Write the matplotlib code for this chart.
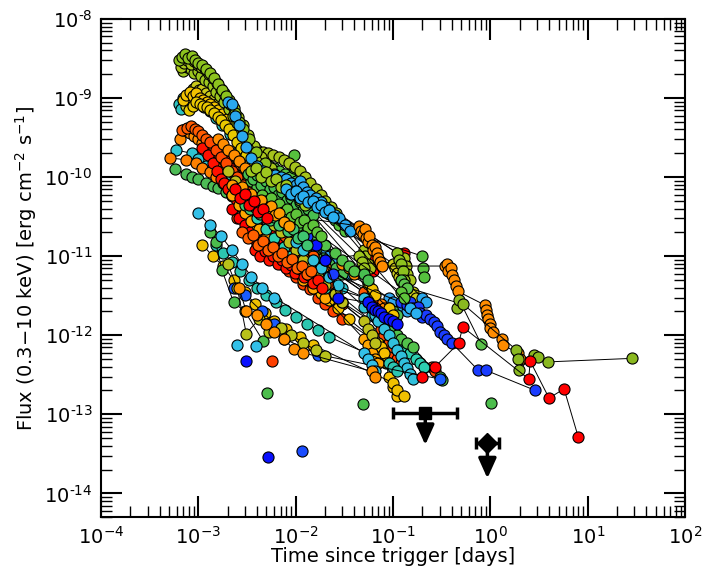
import matplotlib.pyplot as plt
import numpy as np

# Swift XRT light curves. time since trigger in days,
# flux (0.3-10 keV) in units of 1e-12 erg cm^-2 s^-1
FLUX_UNIT = 1e-12

curve_colors = [
    '#ff4400', '#ff3300', '#33a8f0', '#2ec8b4', '#4dbb55', '#30c4d0',
    '#ff8000', '#ff8a00', '#ff5a00', '#ff1000', '#ff0000', '#ff0800',
    '#ff4a00', '#56c13e', '#a6c31c', '#2ec2c0', '#c9c81a', '#f2c200',
    '#e8c800', '#9cc51e', '#a8c61c', '#8cc21e', '#2aa8ee',
    '#f5c000', '#ffa500', '#2ccfb0', '#52c24a', '#bdbf1a', '#31c0dc',
    '#f0c000', '#2cc6b0', '#4cbd4c', '#1a5cff', '#33c0e8', '#b8c21a',
    '#ff9000', '#5ac24a', '#1a3cff', '#0a14ff', '#ff8c00', '#8ab820',
    '#ff0000',
    '#48be50', '#5ec43a', '#3fc470', '#9ec81e', '#ff1400', '#ff6000',
    '#ff9a00', '#ff0000', '#2ab0f0',
]

curve_t = [
    [2.5e-3, 3.0e-3, 3.5e-3, 4.0e-3, 5.0e-3, 6.0e-3, 7.0e-3, 8.5e-3, 0.01, 0.012,
     0.014, 0.017, 0.02, 0.024, 0.03, 0.1, 0.11, 0.12, 0.25, 0.27],
    [4.0e-3, 4.8e-3, 5.5e-3, 6.3e-3, 7.2e-3, 8.2e-3, 9.3e-3, 0.0105, 0.012, 0.0135,
     0.015, 0.017, 0.019, 0.021, 0.023, 0.026, 0.03, 0.08, 0.09, 0.1],
    [2.5e-3, 3.0e-3, 3.5e-3, 4.0e-3, 4.5e-3, 5.0e-3, 6.0e-3, 7.0e-3, 8.0e-3, 9.0e-3,
     0.01, 0.012, 0.014, 0.016, 0.019, 0.022, 0.026, 0.03, 0.035, 0.09, 0.1, 0.12, 0.14],
    [1.5e-3, 1.8e-3, 2.1e-3, 2.5e-3, 3.0e-3, 3.6e-3, 4.3e-3, 5.0e-3, 6.0e-3, 7.0e-3,
     8.5e-3, 0.01, 0.012, 0.014, 0.017, 0.02],
    [5.8e-4, 7.5e-4, 8.5e-4, 1.0e-3, 1.2e-3, 1.4e-3, 1.6e-3, 1.9e-3, 2.2e-3, 2.6e-3,
     3.0e-3, 3.5e-3, 4.0e-3, 4.6e-3, 5.3e-3, 6.0e-3, 7.0e-3, 8.0e-3, 9.2e-3, 0.0105,
     0.012, 0.014, 0.016, 0.019, 0.022, 0.026, 0.03, 0.09, 0.1, 0.11],
    [5.9e-4, 8.5e-4, 1.0e-3, 1.2e-3, 1.4e-3, 1.7e-3, 2.0e-3, 2.5e-3, 3.0e-3, 4.0e-3,
     5.5e-3, 7.5e-3, 0.02, 0.03, 0.05, 0.06],
    [5.1e-4, 7.5e-4, 9.5e-4, 1.1e-3, 1.3e-3, 1.5e-3, 1.8e-3, 2.1e-3, 2.5e-3, 3.0e-3,
     3.6e-3, 4.5e-3, 6.0e-3, 8.0e-3, 0.011, 0.015, 0.02, 0.075, 0.08, 0.085, 0.09],
    [6.5e-4, 7.0e-4, 7.5e-4, 8.2e-4, 9.0e-4, 1.0e-3, 1.1e-3, 1.2e-3, 1.35e-3, 1.5e-3,
     1.7e-3, 1.9e-3, 2.1e-3, 2.4e-3, 2.7e-3, 3.1e-3, 3.6e-3, 4.2e-3, 5.0e-3, 6.0e-3,
     7.0e-3, 8.5e-3, 0.01, 0.012, 0.014, 0.03, 0.035, 0.04],
    [6.8e-4, 7.6e-4, 8.4e-4, 9.2e-4, 1.0e-3, 1.1e-3, 1.2e-3, 1.3e-3, 1.45e-3, 1.6e-3,
     1.8e-3, 2.0e-3, 2.25e-3, 2.5e-3, 2.8e-3, 3.2e-3, 3.6e-3, 4.1e-3, 4.7e-3, 5.4e-3,
     6.2e-3, 7.1e-3, 8.2e-3, 9.5e-3, 0.011, 0.013, 0.015, 0.05, 0.055, 0.06],
    [1.1e-3, 1.25e-3, 1.4e-3, 1.55e-3, 1.7e-3, 1.85e-3, 2.0e-3, 2.2e-3, 2.5e-3, 2.8e-3,
     3.2e-3, 3.7e-3, 4.3e-3, 5.0e-3, 5.8e-3, 6.8e-3, 8.0e-3, 9.5e-3, 0.011, 0.013,
     0.06, 0.065, 0.07],
    [2.2e-3, 2.6e-3, 3.0e-3, 3.4e-3, 3.9e-3, 4.5e-3, 5.2e-3, 6.0e-3, 7.0e-3, 8.0e-3,
     9.0e-3, 0.01, 0.011, 0.0125, 0.014, 0.016, 0.018, 0.02],
    [1.9e-3, 2.1e-3, 2.3e-3, 2.5e-3, 2.8e-3, 3.1e-3, 3.5e-3, 4.0e-3, 4.6e-3, 5.3e-3,
     6.1e-3, 7.0e-3, 8.2e-3, 9.5e-3, 0.011, 0.06, 0.061, 0.062, 0.13, 0.132, 0.134],
    [1.3e-3, 1.5e-3, 1.7e-3, 1.9e-3, 2.2e-3, 2.5e-3, 2.9e-3, 3.3e-3, 3.8e-3, 4.4e-3,
     5.0e-3, 5.8e-3, 6.7e-3, 7.8e-3, 9.0e-3, 0.0105, 0.012, 0.014, 0.016, 0.019,
     0.022, 0.026, 0.075, 0.08, 0.09, 0.1],
    [2.8e-3, 3.2e-3, 3.6e-3, 4.1e-3, 4.7e-3, 5.3e-3, 6.0e-3, 6.8e-3, 7.7e-3, 8.7e-3,
     9.5e-3, 9.7e-3, 0.01, 0.011, 0.012, 0.0135, 0.015, 0.017, 0.019, 0.022,
     0.025, 0.028, 0.032, 0.2, 0.205, 0.21],
    [2.5e-3, 3.0e-3, 3.5e-3, 4.0e-3, 4.6e-3, 5.2e-3, 5.9e-3, 6.7e-3, 7.6e-3, 8.6e-3,
     9.8e-3, 0.011, 0.0125, 0.014, 0.016, 0.018, 0.02, 0.023, 0.026, 0.05,
     0.052, 0.055, 0.058],
    [6.3e-4, 6.6e-4, 7.0e-4, 7.6e-4, 8.4e-4, 9.3e-4, 1.03e-3, 1.15e-3, 1.3e-3, 1.5e-3,
     1.75e-3, 2.1e-3, 2.6e-3, 3.3e-3],
    [7.4e-4, 8.0e-4, 8.7e-4, 9.4e-4, 1.02e-3, 1.1e-3, 1.2e-3, 1.3e-3, 1.42e-3, 1.56e-3,
     1.72e-3, 1.9e-3, 2.1e-3, 2.35e-3, 2.6e-3, 2.9e-3, 3.25e-3, 3.7e-3, 4.3e-3, 0.1,
     0.105, 0.11, 0.115, 0.12, 0.16, 0.17],
    [6.9e-4, 7.5e-4, 8.1e-4, 8.8e-4, 9.5e-4, 1.03e-3, 1.12e-3, 1.22e-3, 1.33e-3, 1.46e-3,
     1.6e-3, 1.76e-3, 1.95e-3, 2.15e-3, 2.4e-3, 2.7e-3, 3.0e-3, 3.4e-3, 3.9e-3, 4.6e-3,
     5.6e-3, 7.0e-3, 0.055, 0.06, 0.065, 0.09, 0.1],
    [8.0e-4, 8.7e-4, 9.5e-4, 1.03e-3, 1.12e-3, 1.22e-3, 1.33e-3, 1.45e-3, 1.58e-3, 1.72e-3,
     1.88e-3, 2.05e-3, 2.25e-3, 2.5e-3, 2.75e-3, 3.05e-3, 3.4e-3, 3.8e-3, 4.3e-3, 5.0e-3],
    [7.0e-4, 7.6e-4, 8.3e-4, 9.0e-4, 9.8e-4, 1.07e-3, 1.17e-3, 1.28e-3, 1.4e-3, 1.53e-3,
     1.68e-3, 1.85e-3, 2.05e-3, 2.25e-3, 2.5e-3, 2.8e-3, 3.1e-3, 3.5e-3, 4.0e-3, 0.045,
     0.048, 0.05],
    [6.6e-4, 7.1e-4, 7.7e-4, 8.3e-4, 9.0e-4, 9.8e-4, 1.07e-3, 1.17e-3, 1.28e-3, 1.4e-3,
     1.55e-3, 1.7e-3, 1.85e-3, 2.05e-3, 2.3e-3, 2.55e-3, 2.85e-3, 3.2e-3, 3.7e-3, 4.4e-3,
     5.5e-3, 0.13, 0.135, 0.14, 0.15],
    [6.3e-4, 6.8e-4, 7.3e-4, 7.9e-4, 8.6e-4, 9.3e-4, 1.0e-3, 1.1e-3, 1.2e-3, 1.32e-3,
     1.45e-3, 1.6e-3, 1.75e-3, 1.9e-3, 2.1e-3, 2.35e-3, 2.6e-3, 2.9e-3, 3.3e-3, 3.9e-3,
     4.8e-3, 6.0e-3, 0.11, 0.115, 0.12, 0.125, 0.13, 0.14],
    [2.0e-3, 2.2e-3, 2.4e-3, 2.6e-3, 2.8e-3, 3.1e-3, 3.5e-3, 4.0e-3, 4.6e-3, 5.3e-3,
     6.1e-3, 7.0e-3, 8.0e-3, 9.0e-3, 0.01, 0.011, 0.012, 0.013, 0.014, 0.016,
     0.018, 0.02, 0.022, 0.025, 0.028, 0.032, 0.036, 0.2, 0.22],
    [3.0e-3, 4.0e-3, 5.0e-3, 6.5e-3, 8.0e-3, 0.01, 0.012, 0.015, 0.018, 0.022,
     0.027, 0.035, 0.07, 0.075, 0.08, 0.085, 0.09, 0.1, 0.11],
    [2.2e-3, 2.6e-3, 3.0e-3, 3.5e-3, 4.2e-3, 5.0e-3, 6.0e-3, 7.0e-3, 8.5e-3, 0.01,
     0.012, 0.015, 0.02, 0.05, 0.055, 0.06, 0.065, 0.07],
    [4.0e-3, 5.0e-3, 6.0e-3, 7.5e-3, 9.0e-3, 0.011, 0.013, 0.016, 0.02, 0.025,
     0.03, 0.1, 0.11, 0.12, 0.13, 0.15, 0.17, 0.19, 0.21],
    [3.5e-3, 4.0e-3, 4.8e-3, 5.5e-3, 6.5e-3, 7.5e-3, 9.0e-3, 0.011, 0.013, 0.016,
     0.02, 0.025, 0.03, 0.035, 0.04, 0.09, 0.1, 0.11, 0.12, 0.14, 0.16, 0.3, 0.32],
    [2.0e-3, 2.4e-3, 2.8e-3, 3.3e-3, 4.0e-3, 5.0e-3, 6.0e-3, 7.0e-3, 8.5e-3, 0.01,
     0.012, 0.014, 0.017, 0.02, 0.025, 0.03, 0.05, 0.055, 0.06, 0.065],
    [0.01, 0.012, 0.015, 0.018, 0.022, 0.027, 0.05, 0.055, 0.06, 0.065,
     0.07, 0.08, 0.09, 0.1, 0.11, 0.12, 0.13, 0.14, 0.15, 0.16],
    [1.1e-3, 1.4e-3, 1.8e-3, 2.3e-3, 3.0e-3, 3.8e-3, 4.8e-3, 6.0e-3, 8.0e-3, 0.011,
     0.015, 0.1, 0.11, 0.13],
    [1.5e-3, 1.8e-3, 2.2e-3, 2.7e-3, 3.3e-3, 4.0e-3, 5.0e-3, 6.2e-3, 7.8e-3, 0.01,
     0.013, 0.017, 0.022, 0.09, 0.1, 0.11],
    [1.3e-3, 1.5e-3, 1.75e-3, 2.3e-3, 3.0e-3, 4.6e-3],
    [2.3e-3, 3.0e-3, 4.5e-3, 6.0e-3, 7.6e-3, 0.017, 0.3],
    [1.0e-3, 1.3e-3, 1.7e-3, 2.2e-3, 2.8e-3, 3.5e-3, 4.5e-3, 6.0e-3, 0.05, 0.055,
     0.06, 0.065],
    [2.0e-3, 2.5e-3, 3.1e-3, 4.2e-3, 5.3e-3, 7.0e-3, 9.0e-3, 0.012, 0.016, 0.02],
    [2.6e-3, 3.1e-3, 4.0e-3, 5.0e-3, 6.0e-3, 7.5e-3, 9.6e-3, 0.012, 0.06, 0.065],
    [0.12, 0.13, 0.14, 0.5, 0.8],
    [0.013, 0.015, 0.02, 0.024, 0.12, 0.14, 0.15, 0.16, 0.17, 0.18,
     0.19, 0.2, 0.22, 0.24, 0.26, 0.28, 0.3, 0.33, 0.36, 0.4, 0.75, 0.9, 2.9],
    [0.016, 0.02, 0.027, 0.055, 0.06, 0.065, 0.07, 0.075, 0.08, 0.09, 0.1, 0.11],
    [1.6e-3, 1.8e-3, 2.0e-3, 2.3e-3, 2.6e-3, 3.0e-3, 3.5e-3, 4.0e-3, 4.7e-3, 5.5e-3,
     6.5e-3, 7.5e-3, 9.0e-3, 0.011, 0.013, 0.045, 0.047, 0.049, 0.051, 0.053,
     0.055, 0.057, 0.06, 0.062, 0.065, 0.068, 0.07, 0.073, 0.076, 0.34,
     0.36, 0.37, 0.39, 0.4, 0.42, 0.44, 0.46, 0.88, 0.9, 0.93,
     0.95, 0.98, 1.0, 1.05, 1.3, 1.35, 1.9, 2.0],
    [0.45, 0.48, 0.52, 1.85, 1.9, 1.95, 2.8, 3.1, 3.9, 28.7],
    [0.2, 0.27, 0.47, 0.52, 2.47, 2.56, 4.0, 5.7, 8.0],
    [3.2e-3, 3.6e-3, 4.0e-3, 4.4e-3, 4.9e-3, 5.4e-3, 6.0e-3, 6.6e-3, 7.3e-3, 8.1e-3,
     9.0e-3, 0.01, 0.011, 0.012, 0.0135, 0.015, 0.05, 0.055],
    [4.5e-3, 5.0e-3, 5.5e-3, 6.1e-3, 6.7e-3, 7.4e-3, 8.2e-3, 9.0e-3, 0.01, 0.011,
     0.0122, 0.0135, 0.015, 0.0165, 0.018, 0.12, 0.13],
    [3.0e-3, 3.4e-3, 3.8e-3, 4.3e-3, 4.8e-3, 5.4e-3, 6.0e-3, 6.7e-3, 7.5e-3, 8.4e-3,
     9.4e-3, 0.0105, 0.0118, 0.013],
    [3.5e-3, 3.9e-3, 4.4e-3, 5.0e-3, 5.6e-3, 6.3e-3, 7.0e-3, 7.9e-3, 8.8e-3, 9.9e-3,
     0.011, 0.0125],
    [3.8e-3, 4.3e-3, 4.8e-3, 5.3e-3, 5.9e-3, 6.5e-3, 7.2e-3, 8.0e-3, 8.9e-3, 9.9e-3,
     0.011, 0.0122, 0.0136, 0.015, 0.0168, 0.0185],
    [2.8e-3, 3.2e-3, 3.6e-3, 4.1e-3, 4.6e-3, 5.2e-3, 5.8e-3, 6.5e-3, 7.3e-3, 8.2e-3,
     9.2e-3, 0.0103, 0.0115, 0.013, 0.0145],
    [2.2e-3, 2.5e-3, 2.8e-3, 3.1e-3, 3.5e-3, 3.9e-3, 4.4e-3, 4.9e-3, 5.5e-3, 6.1e-3,
     6.8e-3, 7.6e-3, 8.5e-3],
    [2.4e-3, 2.7e-3, 3.0e-3, 3.3e-3, 3.7e-3, 4.1e-3, 4.6e-3, 5.1e-3],
    [8.0e-3, 9.0e-3, 0.01, 0.011, 0.012, 0.0135, 0.015, 0.0165, 0.018, 0.02,
     0.022, 0.024, 0.15, 0.17],
]

curve_f = [
    [30, 22, 18, 15, 12, 10, 8, 6.5, 5.5, 4.5, 3.8, 3, 2.5, 2, 1.6, 0.6, 0.5, 0.45, 0.4, 0.35],
    [14, 12, 11, 9.5, 8.5, 7.5, 7, 6.5, 6, 5.5, 5, 4.5, 4, 3.6, 3.2, 2.8, 2.5, 1.0, 0.9, 0.8],
    [200, 140, 100, 80, 65, 55, 45, 38, 32, 27, 24, 20, 17, 14, 12, 10, 8.5, 7, 6,
     3, 2.6, 2.2, 2.0],
    [140, 120, 100, 80, 65, 50, 40, 33, 27, 22, 18, 15, 12, 10, 8, 6.5],
    [125, 110, 100, 95, 85, 78, 72, 65, 58, 52, 46, 41, 37, 33, 30, 27, 24, 21, 19, 17,
     15, 13, 11, 9.5, 8, 7, 6, 2.2, 2, 1.8],
    [220, 200, 170, 140, 120, 95, 80, 60, 48, 35, 25, 18, 6, 4, 2.3, 1.8],
    [175, 165, 150, 130, 115, 100, 85, 70, 58, 48, 40, 32, 25, 19, 14, 10, 7.5,
     2.5, 2.2, 1.8, 1.5],
    [300, 390, 400, 360, 330, 300, 270, 240, 210, 180, 160, 140, 125, 110, 95, 82, 70,
     60, 50, 42, 36, 30, 26, 22, 19, 8, 7, 6],
    [390, 420, 440, 400, 380, 340, 300, 260, 230, 200, 170, 145, 125, 105, 90, 75, 62,
     52, 44, 37, 31, 26, 22, 18, 15, 12, 10, 3.5, 3, 2.5],
    [230, 190, 150, 120, 95, 85, 70, 60, 50, 42, 35, 28, 22, 18, 14, 11, 9, 7.5, 6, 5,
     2.8, 2.2, 1.8],
    [40, 30, 25, 20, 16, 14, 12, 11, 10, 9, 8.5, 7.5, 7, 6, 5.5, 4.5, 4, 3.5],
    [160, 130, 110, 95, 80, 65, 52, 42, 33, 26, 20, 16, 13, 10, 8, 11, 9, 6.5, 11, 8, 5],
    [280, 220, 180, 150, 120, 100, 80, 65, 52, 42, 35, 28, 23, 18, 15, 12, 10, 8, 6.5,
     5.2, 4.3, 3.5, 1.2, 1.0, 0.8, 0.7],
    [200, 180, 170, 160, 150, 140, 130, 120, 110, 100, 190, 130, 90, 80, 70, 60, 52, 45,
     40, 34, 29, 25, 21, 10, 7, 5.5],
    [300, 260, 240, 220, 210, 200, 190, 180, 165, 150, 135, 120, 100, 85, 70, 60, 50,
     42, 35, 12, 10, 8, 7],
    [850, 720, 1000, 1100, 1050, 950, 880, 780, 680, 560, 450, 350, 260, 180],
    [800, 1000, 1300, 1400, 1250, 1300, 1150, 1050, 950, 850, 720, 620, 520, 420, 340,
     270, 210, 160, 120, 8, 7, 6.2, 5.5, 4.8, 3.5, 3],
    [950, 1100, 1200, 1050, 1150, 1000, 950, 900, 850, 780, 700, 620, 540, 460, 380,
     310, 250, 200, 150, 115, 85, 60, 4.5, 3.8, 3.2, 2.2, 1.8],
    [700, 800, 900, 850, 800, 780, 700, 640, 580, 520, 460, 400, 340, 280, 230, 190,
     150, 120, 95, 75],
    [2200, 2500, 2300, 2100, 2200, 1900, 1700, 1600, 1400, 1200, 1050, 880, 720, 600,
     480, 380, 300, 230, 180, 10, 8.5, 7],
    [2500, 2800, 3000, 2700, 2900, 2600, 2500, 2300, 2000, 1800, 1550, 1300, 1150, 950,
     750, 580, 450, 340, 250, 180, 130, 9.5, 7.5, 6, 5],
    [3000, 3300, 3600, 3200, 3400, 3000, 2800, 2600, 2300, 2100, 1800, 1500, 1250, 1050,
     850, 650, 500, 400, 300, 210, 150, 110, 11, 9, 8, 6.5, 5, 4],
    [900, 850, 600, 450, 330, 240, 175, 140, 120, 110, 105, 100, 95, 85, 80, 90, 75, 65,
     60, 55, 48, 42, 38, 33, 30, 25, 21, 3, 2.6],
    [40, 25, 18, 12, 9, 7, 5.5, 4.2, 3.4, 2.8, 2.2, 1.6, 0.8, 0.7, 0.6, 0.45, 0.3, 0.22, 0.17],
    [60, 45, 35, 28, 22, 17, 13, 10, 8, 6.5, 5, 4, 3, 0.9, 0.75, 0.6, 0.5, 0.45],
    [30, 22, 17, 13, 10, 8, 6.5, 5, 4, 3.2, 2.6, 1.0, 0.9, 0.8, 0.7, 0.6, 0.5, 0.45, 0.4],
    [90, 75, 60, 50, 42, 36, 30, 25, 21, 17, 14, 11, 9, 7.5, 6.5, 1.5, 1.2, 1.0, 0.9,
     0.8, 0.7, 0.3, 0.27],
    [120, 90, 70, 55, 42, 32, 25, 20, 15, 12, 9, 7, 5.5, 4.3, 3.3, 2.6, 1.5, 1.2, 1.0, 0.8],
    [15, 12, 9, 7, 5.5, 4.3, 3, 2.6, 2.2, 1.8, 1.5, 1.2, 1.0, 0.8, 0.65, 0.55, 0.45,
     0.38, 0.32, 0.28],
    [14, 10, 7.5, 5, 3.5, 2.5, 1.9, 1.5, 1.2, 0.95, 0.75, 0.25, 0.2, 0.17],
    [14, 11, 8.5, 6.5, 5, 4, 3.2, 2.6, 2.1, 1.7, 1.4, 1.15, 0.95, 0.45, 0.4, 0.35],
    [20, 15, 6.6, 2.6, 2.0, 0.85],
    [4.0, 3.2, 2.0, 1.4, 0.9, 0.57, 0.28],
    [35, 25, 18, 12, 8, 5.5, 4, 3, 0.6, 0.5, 0.42, 0.35],
    [8, 4, 1.05, 1.6, 1.1, 1.25, 1.0, 0.8, 0.65, 0.55],
    [4, 2.0, 1.8, 1.4, 1.1, 0.9, 0.66, 0.6, 0.35, 0.3],
    [5, 4.5, 4, 2.5, 0.78],
    [18, 14, 9, 6, 2.6, 2.4, 2.6, 2.2, 2.0, 2.3, 1.9, 1.7, 1.8, 1.6, 1.45, 1.3, 1.1,
     1.0, 0.9, 0.8, 0.36, 0.36, 0.2],
    [14, 9, 3.0, 2.6, 2.3, 2.1, 2.0, 1.9, 1.7, 1.6, 1.5, 1.4],
    [300, 260, 220, 190, 160, 130, 110, 95, 80, 68, 58, 50, 42, 36, 30, 24, 21, 19, 22,
     17, 15, 18, 14, 12, 13, 11, 9.5, 8.5, 7.5, 7.5, 8, 6.5, 7, 5.8, 5, 4.2, 3.6, 2.4,
     2.1, 1.8, 1.6, 1.4, 1.25, 1.1, 0.9, 0.75, 0.6, 0.5],
    [2.2, 2.8, 2.5, 0.65, 0.5, 0.36, 0.57, 0.53, 0.46, 0.51],
    [0.3, 0.4, 0.79, 1.27, 0.28, 0.47, 0.16, 0.21, 0.051],
    [110, 95, 105, 80, 88, 70, 75, 60, 64, 52, 55, 45, 48, 38, 40, 33, 6, 5],
    [60, 50, 55, 42, 46, 36, 40, 31, 34, 27, 29, 23, 25, 20, 18, 3.5, 3],
    [45, 40, 42, 34, 36, 29, 31, 25, 27, 21, 22, 17, 18, 14],
    [120, 130, 100, 115, 90, 95, 75, 80, 62, 66, 52, 45],
    [12, 10, 11.5, 9, 10, 8, 9, 7, 7.8, 6.2, 6.8, 5.4, 5.8, 4.6, 5, 4],
    [20, 17, 18.5, 14, 15.5, 12, 13, 10, 11, 8.5, 9.2, 7, 7.6, 6, 6.4],
    [80, 70, 75, 58, 62, 48, 52, 40, 43, 33, 35, 27, 24],
    [70, 55, 62, 45, 50, 36, 40, 30],
    [70, 62, 66, 55, 58, 48, 50, 42, 44, 36, 38, 31, 2.2, 1.9],
]

# single detections, not joined to anything
iso_t = [5.1e-3, 5.2e-3, 0.0116, 0.049, 1.02, 2.5e-3, 3.9e-3, 3.1e-3, 5.7e-3]
iso_f = [0.185, 0.029, 0.034, 0.135, 0.14, 0.75, 0.73, 0.47, 0.47]
iso_c = ['#4cbd4c', '#0a10ff', '#1a4cff', '#4cbd4c', '#4cbd4c',
         '#33c0e8', '#33c0e8', '#0a10ff', '#ff4000']

# upper limits: time, time range, flux, arrow tip
ul_t = [0.214, 0.93]
ul_tlo = [0.1, 0.71]
ul_thi = [0.456, 1.23]
ul_f = [0.103, 0.043]
ul_tip = [0.041, 0.0155]
ul_marker = ['s', 'D']

fig, ax = plt.subplots(figsize=(7.02, 5.74), dpi=100)
fig.subplots_adjust(left=0.144, right=0.976, bottom=0.099, top=0.967)

for c, t, f in zip(curve_colors, curve_t, curve_f):
    ax.plot(t, np.array(f) * FLUX_UNIT, '-o', color='black', lw=0.7,
            mfc=c, mec='black', mew=0.8, ms=8)

for t, f, c in zip(iso_t, iso_f, iso_c):
    ax.plot(t, f * FLUX_UNIT, 'o', mfc=c, mec='black', mew=0.8, ms=8)

for t, lo, hi, f, tip, m in zip(ul_t, ul_tlo, ul_thi, ul_f, ul_tip, ul_marker):
    ax.errorbar([t], [f * FLUX_UNIT], xerr=[[t - lo], [hi - t]], fmt=m,
                color='black', ms=9 if m == 's' else 10, elinewidth=2.5,
                capsize=4, capthick=2.5, zorder=5)
    ax.annotate('', xy=(t, tip * FLUX_UNIT), xytext=(t, f * FLUX_UNIT),
                arrowprops=dict(arrowstyle='-|>,head_length=0.6,head_width=0.27',
                                color='black', lw=2.5, mutation_scale=20,
                                shrinkA=0, shrinkB=0), zorder=5)

ax.set_xscale('log')
ax.set_yscale('log')
ax.set_xlim(1e-4, 1e2)
ax.set_ylim(5e-15, 1e-8)

yt = [1e-14, 1e-13, 1e-12, 1e-11, 1e-10, 1e-9, 1e-8]
ax.set_yticks(yt)
ax.set_yticklabels([r'$10^{\text{-%d}}$' % e for e in [14, 13, 12, 11, 10, 9, 8]])

ax.tick_params(which='major', direction='in', length=15, width=1.5,
               top=True, right=True, labelsize=14, pad=6)
ax.tick_params(which='minor', direction='in', length=8, width=1,
               top=True, right=True)
for s in ax.spines.values():
    s.set_linewidth(1.5)

ax.set_xlabel('Time since trigger [days]', fontsize=14, labelpad=0)
ax.set_ylabel('Flux (0.3\u221210 keV) [erg cm$^{-2}$ s$^{-1}$]', fontsize=14)

fig.savefig('out.png', dpi=100)
